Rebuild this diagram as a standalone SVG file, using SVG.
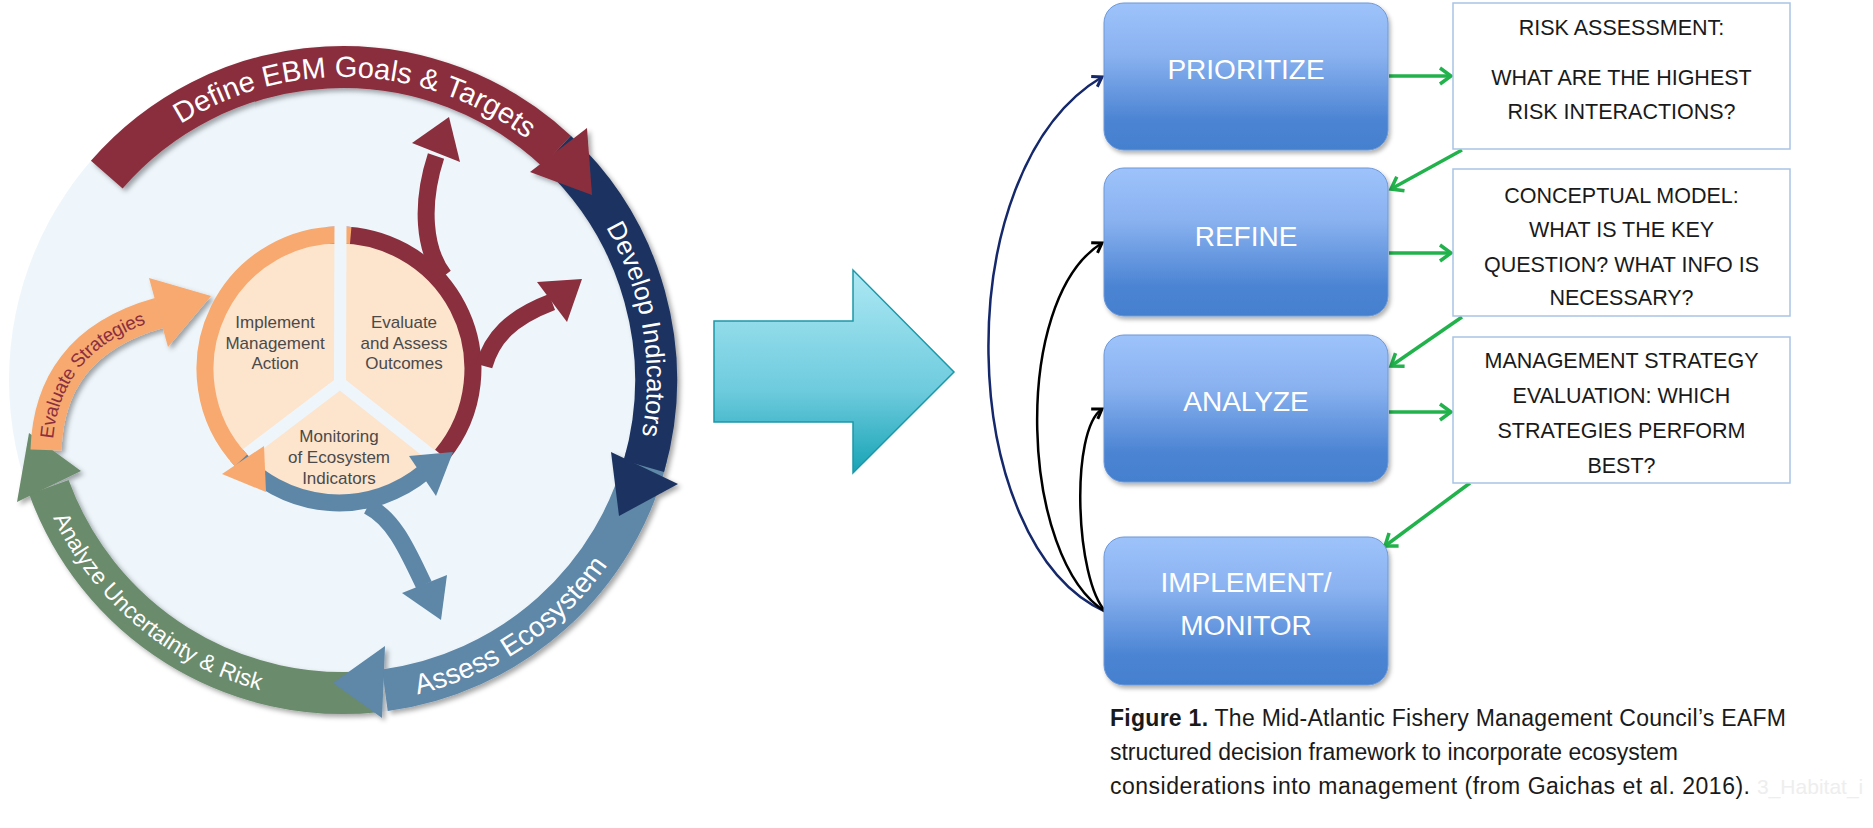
<svg xmlns="http://www.w3.org/2000/svg" width="1873" height="828" viewBox="0 0 1873 828">
<style>
.band{fill:none;stroke-width:42;stroke-linecap:butt}
.ring{fill:none;stroke-width:17;stroke-linecap:butt}
.gap{stroke:#eef6fc;stroke-width:12;stroke-linecap:butt}
.bandtxt{font-family:"Liberation Sans",Arial,sans-serif;fill:#ffffff}
.pietxt{font-family:"Liberation Sans",Arial,sans-serif;font-size:17px;fill:#4a4a4a;text-anchor:middle}
.boxtxt{font-family:"Liberation Sans",Arial,sans-serif;font-size:28px;fill:#ffffff;text-anchor:middle}
.qtxt{font-family:"Liberation Sans",Arial,sans-serif;font-size:21.5px;fill:#1a1a1a;text-anchor:middle}
.cap{font-family:"Liberation Sans",Arial,sans-serif;font-size:23px;fill:#1a1a1a}
.green{fill:none;stroke:#22b24c;stroke-width:3.5}
.curve{fill:none;stroke-width:2.5}
</style>
<defs>
<filter id="sh" x="-10%" y="-10%" width="130%" height="130%"><feDropShadow dx="3" dy="3" stdDeviation="2.5" flood-color="#000" flood-opacity="0.35"/></filter>
<filter id="bsh" x="-10%" y="-10%" width="130%" height="130%"><feDropShadow dx="2" dy="3" stdDeviation="2" flood-color="#000" flood-opacity="0.3"/></filter>
<linearGradient id="bg" x1="0" y1="0" x2="0" y2="1"><stop offset="0" stop-color="#9ec3fb"/><stop offset="0.35" stop-color="#8ab2f0"/><stop offset="0.8" stop-color="#4b84d3"/><stop offset="1" stop-color="#4480cf"/></linearGradient>
<linearGradient id="cg" x1="0" y1="0" x2="0" y2="1"><stop offset="0" stop-color="#aee8f4"/><stop offset="0.6" stop-color="#6ccbdd"/><stop offset="1" stop-color="#17a3b5"/></linearGradient>
<marker id="ga" markerWidth="16" markerHeight="20" refX="13" refY="10" orient="auto" markerUnits="userSpaceOnUse"><path d="M2,2 L13,10 L2,18" fill="none" stroke="#22b24c" stroke-width="3.5"/></marker>
<marker id="na" markerWidth="14" markerHeight="16" refX="11" refY="8" orient="auto" markerUnits="userSpaceOnUse"><path d="M2,2 L11,8 L2,14" fill="none" stroke="#14286b" stroke-width="3"/></marker>
<marker id="ka" markerWidth="14" markerHeight="16" refX="11" refY="8" orient="auto" markerUnits="userSpaceOnUse"><path d="M2,2 L11,8 L2,14" fill="none" stroke="#000" stroke-width="3"/></marker>
<path id="pDefine" d="M 148.2 147.9 A 303 303 0 0 1 557.3 165.7"/>
<path id="pDevelop" d="M 538.4 147.1 A 304 304 0 0 1 605.2 533.8"/>
<path id="pAssess" d="M 309.2 701.2 A 323 323 0 0 0 654.1 466.9"/>
<path id="pAnalyze" d="M 26.9 435.7 A 321 321 0 0 0 345.2 701"/>
<path id="pEval" d="M 46 450 C 48 385, 80 335, 159 313"/>
</defs>

<g id="cycle">
<circle cx="343" cy="380" r="334" fill="#eef6fc"/>
<g id="outer-bands" filter="url(#sh)">
<g id="analyze-uncertainty">
<path class="band" stroke="#6b8b6c" d="M 375.7 691.3 A 313 313 0 0 1 48.9 487.1"/>
<polygon fill="#6b8b6c" points="17,502 81,471 29,433"/>
</g>
<g id="assess-ecosystem">
<path class="band" stroke="#5e87a7" d="M 646.7 455.7 A 313 313 0 0 1 384.9 690.2"/>
<polygon fill="#5e87a7" points="385,646 382,718 333,683"/>
</g>
<g id="develop-indicators">
<path class="band" stroke="#1b3360" d="M 556.5 151.1 A 313 313 0 0 1 643.9 466.3"/>
<polygon fill="#1b3360" points="611,452 678,484 619,516"/>
</g>
<g id="define-goals">
<path class="band" stroke="#8a2f3e" d="M 106.8 174.6 A 313 313 0 0 1 556.5 151.1"/>
<polygon fill="#8a2f3e" points="530,172 587,128 592,195"/>
</g>
<g id="evaluate-strategies">
<path fill="none" stroke="#f7a96f" stroke-width="31" d="M 46 450 C 48 385, 80 335, 159 313"/>
<polygon fill="#f7a96f" points="149,278 211,296 168,347"/>
</g>
</g>
<text class="bandtxt" font-size="29"><textPath href="#pDefine" startOffset="50%" text-anchor="middle">Define EBM Goals &amp; Targets</textPath></text>
<text class="bandtxt" font-size="26"><textPath href="#pDevelop" startOffset="50%" text-anchor="middle">Develop Indicators</textPath></text>
<text class="bandtxt" font-size="28"><textPath href="#pAssess" startOffset="50%" text-anchor="middle">Assess Ecosystem</textPath></text>
<text class="bandtxt" font-size="23"><textPath href="#pAnalyze" startOffset="50%" text-anchor="middle">Analyze Uncertainty &amp; Risk</textPath></text>
<text font-family="Liberation Sans, Arial, sans-serif" font-size="19" fill="#8b2f3f" dy="6.5"><textPath href="#pEval" startOffset="49%" text-anchor="middle">Evaluate Strategies</textPath></text>

<g id="inner-cycle">
<circle cx="339" cy="369" r="127" fill="#fde4cd"/>
<line class="gap" x1="340" y1="383" x2="228" y2="468"/>
<line class="gap" x1="340" y1="383" x2="450" y2="470"/>
<g id="evaluate-branches">
<path class="ring" stroke="#8a2f3e" d="M 327.3 235.5 A 134 134 0 0 1 441.6 455.1"/>
<path class="ring" stroke="#8a2f3e" d="M 444 276 C 424 250, 420 205, 436 156"/>
<polygon fill="#8a2f3e" points="412,143 449,117 460,162"/>
<path class="ring" stroke="#8a2f3e" d="M 484 366 C 492 338, 510 318, 552 302"/>
<polygon fill="#8a2f3e" points="537,282 582,279 567,322"/>
</g>
<g id="monitoring-branches">
<path class="ring" stroke="#5e87a7" d="M 236.4 455.1 A 134 134 0 0 0 425.1 471.6"/>
<polygon fill="#5e87a7" points="409,456 436,496 453,452"/>
<path class="ring" stroke="#5e87a7" d="M 368 506 C 395 520, 408 552, 424 585"/>
<polygon fill="#5e87a7" points="402,593 447,575 441,620"/>
</g>
<g id="implement-ring">
<path class="ring" stroke="#f7a96f" d="M 350.7 235.5 A 134 134 0 0 0 241 460.4"/>
<polygon fill="#f7a96f" points="222,474 264,446 266,492"/>
</g>
<line class="gap" x1="340" y1="383" x2="340.5" y2="222"/>
<g id="implement-node">
<text class="pietxt" x="275" y="328">Implement</text>
<text class="pietxt" x="275" y="349">Management</text>
<text class="pietxt" x="275" y="369">Action</text>
</g>
<g id="evaluate-node">
<text class="pietxt" x="404" y="328">Evaluate</text>
<text class="pietxt" x="404" y="349">and Assess</text>
<text class="pietxt" x="404" y="369">Outcomes</text>
</g>
<g id="monitoring-node">
<text class="pietxt" x="339" y="442">Monitoring</text>
<text class="pietxt" x="339" y="463">of Ecosystem</text>
<text class="pietxt" x="339" y="484">Indicators</text>
</g>
</g>
</g>

<g id="big-arrow">
<polygon points="714,321 853,321 853,270 954,372 853,473 853,422 714,422" fill="url(#cg)" stroke="#1b98a8" stroke-width="1.5"/>
</g>

<g id="connectors">
<path class="curve" stroke="#14286b" marker-end="url(#na)" d="M 1106 612 C 955 545, 945 170, 1102 77"/>
<path class="curve" stroke="#000" marker-end="url(#ka)" d="M 1106 612 C 1020 560, 1010 300, 1102 243"/>
<path class="curve" stroke="#000" marker-end="url(#ka)" d="M 1106 612 C 1075 580, 1070 430, 1102 409"/>
<line class="green" marker-end="url(#ga)" x1="1389" y1="76" x2="1451" y2="76"/>
<line class="green" marker-end="url(#ga)" x1="1462" y1="150" x2="1391" y2="189"/>
<line class="green" marker-end="url(#ga)" x1="1389" y1="253" x2="1451" y2="253"/>
<line class="green" marker-end="url(#ga)" x1="1462" y1="317" x2="1391" y2="366"/>
<line class="green" marker-end="url(#ga)" x1="1389" y1="412" x2="1451" y2="412"/>
<line class="green" marker-end="url(#ga)" x1="1470" y1="483" x2="1385" y2="546"/>
</g>

<g id="prioritize">
<rect x="1104" y="3" width="284" height="147" rx="20" fill="url(#bg)" stroke="#6d98d8" stroke-width="1" filter="url(#bsh)"/>
<text class="boxtxt" x="1246" y="79">PRIORITIZE</text>
</g>
<g id="refine">
<rect x="1104" y="168" width="284" height="148" rx="20" fill="url(#bg)" stroke="#6d98d8" stroke-width="1" filter="url(#bsh)"/>
<text class="boxtxt" x="1246" y="246">REFINE</text>
</g>
<g id="analyze">
<rect x="1104" y="335" width="284" height="147" rx="20" fill="url(#bg)" stroke="#6d98d8" stroke-width="1" filter="url(#bsh)"/>
<text class="boxtxt" x="1246" y="411">ANALYZE</text>
</g>
<g id="implement-monitor">
<rect x="1104" y="537" width="284" height="148" rx="20" fill="url(#bg)" stroke="#6d98d8" stroke-width="1" filter="url(#bsh)"/>
<text class="boxtxt" x="1246" y="592">IMPLEMENT/</text>
<text class="boxtxt" x="1246" y="635">MONITOR</text>
</g>

<g id="risk-assessment">
<rect x="1453" y="3" width="337" height="146" fill="#fff" stroke="#a9c3e6" stroke-width="1.5"/>
<text class="qtxt" x="1621.5" y="35">RISK ASSESSMENT:</text>
<text class="qtxt" x="1621.5" y="85">WHAT ARE THE HIGHEST</text>
<text class="qtxt" x="1621.5" y="119">RISK INTERACTIONS?</text>
</g>
<g id="conceptual-model">
<rect x="1453" y="169" width="337" height="147" fill="#fff" stroke="#a9c3e6" stroke-width="1.5"/>
<text class="qtxt" x="1621.5" y="203">CONCEPTUAL MODEL:</text>
<text class="qtxt" x="1621.5" y="237">WHAT IS THE KEY</text>
<text class="qtxt" x="1621.5" y="272">QUESTION? WHAT INFO IS</text>
<text class="qtxt" x="1621.5" y="305">NECESSARY?</text>
</g>
<g id="mse">
<rect x="1453" y="337" width="337" height="146" fill="#fff" stroke="#a9c3e6" stroke-width="1.5"/>
<text class="qtxt" x="1621.5" y="368">MANAGEMENT STRATEGY</text>
<text class="qtxt" x="1621.5" y="403">EVALUATION: WHICH</text>
<text class="qtxt" x="1621.5" y="438">STRATEGIES PERFORM</text>
<text class="qtxt" x="1621.5" y="473">BEST?</text>
</g>

<g id="caption">
<text class="cap" x="1110" y="726" textLength="676" lengthAdjust="spacing"><tspan font-weight="bold">Figure 1.</tspan> The Mid-Atlantic Fishery Management Council’s EAFM</text>
<text class="cap" x="1110" y="760" textLength="568" lengthAdjust="spacing">structured decision framework to incorporate ecosystem</text>
<text class="cap" x="1110" y="794" textLength="640" lengthAdjust="spacing">considerations into management (from Gaichas et al. 2016).</text>
<text x="1757" y="794" style="font-family:'Liberation Sans',Arial,sans-serif;font-size:21px;fill:#eeeeee">3_Habitat_i</text>
</g>
</svg>
